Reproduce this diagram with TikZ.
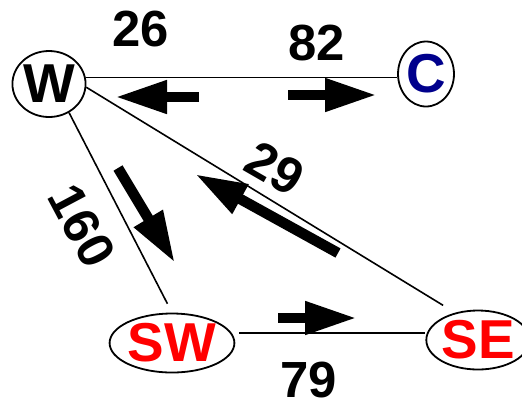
\documentclass[tikz,border=0pt]{standalone}
\usepackage{fontspec}
\setmainfont{Liberation Sans}
\usetikzlibrary{shapes.geometric,arrows.meta,calc}
\definecolor{navyc}{RGB}{0,0,140}
\tikzset{
  state/.style={ellipse,draw=black,line width=1.8bp,inner sep=0pt,font=\fontsize{55}{55}\selectfont\bfseries},
  edge/.style={draw=black,line width=1.6bp},
  lbl/.style={inner sep=0pt,font=\fontsize{51}{51}\selectfont\bfseries},
  bigarrow/.style={line width=10.5bp,-{Triangle[length=52bp,width=31bp]}}
}
\begin{document}
\begin{tikzpicture}[x=1bp,y=-1bp]
\useasboundingbox (0,0) rectangle (522,406);
\node[state,minimum width=68bp,minimum height=66bp] (W) at (49,84) {W};
\node[state,minimum width=55bp,minimum height=65bp,text=navyc] (C) at (426,74) {C};
\node[state,minimum width=111bp,minimum height=59bp,text=red] (SW) at (172,343) {SW};
\node[state,minimum width=88bp,minimum height=59bp,text=red] (SE) at (478,340) {SE};
% connectors
\coordinate (wc) at (W.10);
\draw[edge] (wc) -- (C.west |- wc);
\draw[edge,shorten >=10bp] (W.-55) -- (SW.north);
\draw[edge,shorten >=14bp] (W.-5) -- (SE.130);
\coordinate (sws) at ([xshift=4bp,yshift=10bp]SW.east);
\draw[edge] (sws) -- (SE.west |- sws);
% flow arrows
\coordinate (a1s) at (199,97); \coordinate (a1e) at (115,97);
\coordinate (a2s) at (288,95); \coordinate (a2e) at (377,95);
\coordinate (a3s) at (118,168); \coordinate (a3e) at (175,263);
\coordinate (a4s) at (338,253); \coordinate (a4e) at (195,174);
\coordinate (a5s) at (278,318); \coordinate (a5e) at (357,318);
\draw[bigarrow] (a1s) -- (a1e);
\draw[bigarrow] (a2s) -- (a2e);
\draw[bigarrow] (a3s) -- (a3e);
\draw[bigarrow] (a4s) -- (a4e);
\draw[bigarrow] (a5s) -- (a5e);
% labels
\node[lbl] (l26) at (141,29.5) {26};
\node[lbl] (l82) at (317,43.5) {82};
\node[lbl] (l79) at (309,380) {79};
\node[lbl,rotate=-62] (l160) at (82,226) {160};
\node[lbl,rotate=-30] (l29) at (275,168) {29};
\end{tikzpicture}
\end{document}
